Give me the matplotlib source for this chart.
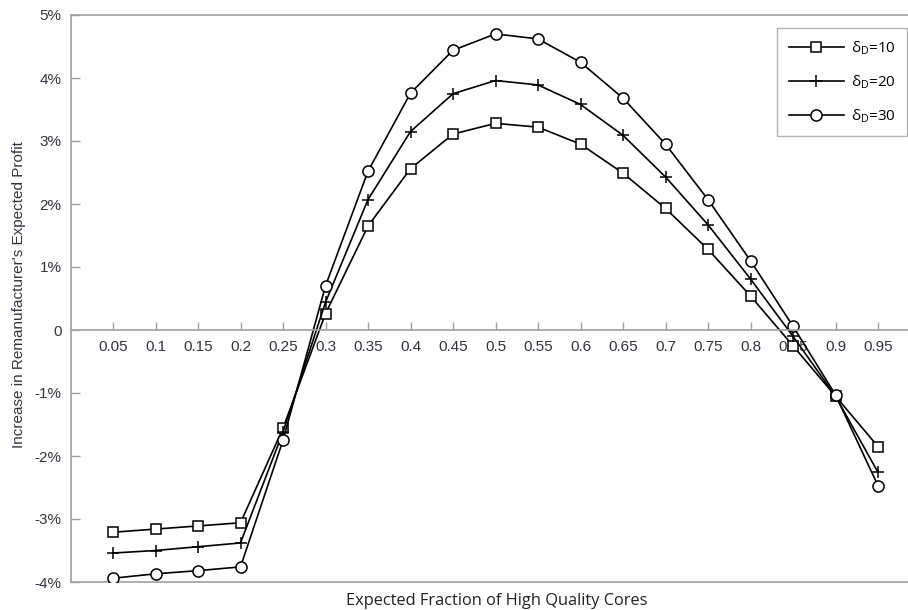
import matplotlib
matplotlib.use("Agg")
import matplotlib.pyplot as plt
from matplotlib.ticker import FuncFormatter

plt.rcParams["font.family"] = ["Liberation Sans", "DejaVu Sans"]

x_labels = ["0.05", "0.1", "0.15", "0.2", "0.25", "0.3", "0.35", "0.4", "0.45", "0.5",
            "0.55", "0.6", "0.65", "0.7", "0.75", "0.8", "0.85", "0.9", "0.95"]
x_vals = [float(s) for s in x_labels]

delta10 = [-3.21, -3.16, -3.11, -3.06, -1.56, 0.26, 1.65, 2.56, 3.11, 3.28,
           3.22, 2.95, 2.49, 1.93, 1.28, 0.54, -0.25, -1.05, -1.85]
delta20 = [-3.54, -3.50, -3.44, -3.38, -1.62, 0.44, 2.07, 3.15, 3.75, 3.96,
           3.89, 3.58, 3.09, 2.43, 1.67, 0.81, -0.10, -1.05, -2.26]
delta30 = [-3.94, -3.87, -3.82, -3.76, -1.75, 0.70, 2.52, 3.76, 4.44, 4.70,
           4.62, 4.25, 3.68, 2.95, 2.07, 1.10, 0.06, -1.03, -2.47]

series = [("δ$_\\mathregular{D}$=10", delta10, "s", 6.5),
          ("δ$_\\mathregular{D}$=20", delta20, "+", 9),
          ("δ$_\\mathregular{D}$=30", delta30, "o", 8)]

W, H = 908, 610
fig = plt.figure(figsize=(W / 100, H / 100), dpi=100)
left, right, top, bottom = 70.5, 908, 15, 582
ax = fig.add_axes([left / W, (H - bottom) / H, (right - left) / W, (bottom - top) / H])

for label, vals, mk, ms in series:
    ax.plot(x_vals, vals, color="black", lw=1.2, marker=mk, ms=ms,
            mfc="white", mec="black", mew=1.1, label=label)

ax.set_xlim(0, 0.05 * (right - left) / 42.5)
ax.set_ylim(-4, 5)

grey = "#a0a0a0"
for s in ["left", "top", "bottom"]:
    ax.spines[s].set_color(grey)
    ax.spines[s].set_linewidth(1.2)
ax.spines["right"].set_visible(False)
ax.spines["bottom"].set_position(("data", 0))
ax.axhline(-4, color=grey, lw=1.2, clip_on=False, zorder=0)

txt = "#333340"
ax.set_xticks(x_vals)
ax.set_xticklabels(x_labels)
ax.set_yticks(range(-4, 6))
ax.yaxis.set_major_formatter(FuncFormatter(lambda v, p: "0" if v == 0 else f"{int(v)}%"))
ax.tick_params(axis="x", direction="in", length=6, width=1, color=grey, pad=7,
               labelsize=11, labelcolor=txt)
ax.tick_params(axis="y", direction="in", length=6.5, width=1, color=grey, pad=6.5,
               labelsize=11, labelcolor=txt)

fig.text(497 / W, 1 - 601 / H, "Expected Fraction of High Quality Cores",
         ha="center", va="center", fontsize=11.8, family="Open Sans", color="#222222")
fig.text(19 / W, 1 - 295 / H, "Increase in Remanufacturer's Expected Profit",
         ha="center", va="center", rotation=90, fontsize=11, family="Liberation Sans",
         color="#333340")

leg = ax.legend(loc="upper right", bbox_to_anchor=(907 / W, 1 - 28 / H),
                bbox_transform=fig.transFigure, frameon=True, fancybox=False,
                edgecolor=grey, prop={"family": "Open Sans", "size": 11},
                handlelength=3.6, labelspacing=1.05, borderpad=0.75, handletextpad=0.45,
                borderaxespad=0)
leg.get_frame().set_linewidth(1.0)

fig.savefig("out.png", dpi=100, facecolor="white")
